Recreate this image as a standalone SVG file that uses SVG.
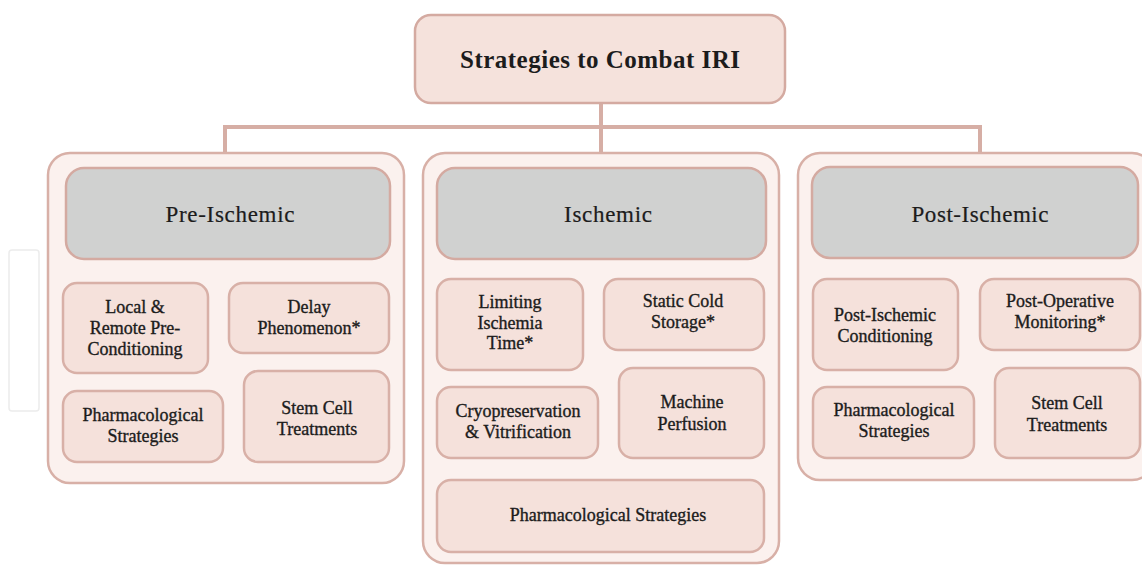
<svg xmlns="http://www.w3.org/2000/svg" width="1142" height="566" viewBox="0 0 1142 566">
  <style>
    .root { fill: #f5e2dc; stroke: #d4aaa1; stroke-width: 2.5; }
    .panel { fill: #fbf1ee; stroke: #d8b0a7; stroke-width: 2.5; }
    .head { fill: #d0d1d0; stroke: #d4aaa1; stroke-width: 2.5; }
    .item { fill: #f5e1db; stroke: #d8b0a7; stroke-width: 2.5; }
    .link { fill: none; stroke: #d6aea5; stroke-width: 4; }
    text { font-family: "Liberation Serif", "DejaVu Serif", serif; fill: #1c1c1c; text-anchor: middle; }
    .title { font-size: 25px; font-weight: bold; }
    .htext { font-size: 23px; stroke: #1c1c1c; stroke-width: 0.2; }
    .itext { font-size: 18px; stroke: #1c1c1c; stroke-width: 0.35; }
  </style>

  <!-- faint empty frame at far left -->
  <rect x="9" y="250" width="30" height="161" rx="3" fill="#ffffff" stroke="#ececec" stroke-width="1.5"/>

  <!-- tree connectors -->
  <g id="connectors">
    <path class="link" d="M601 104 V153"/>
    <path class="link" d="M225 153 V127 H980 V153"/>
  </g>

  <!-- root -->
  <g id="root">
    <rect class="root" x="415" y="15" width="370" height="88" rx="16"/>
    <text class="title" x="600" y="68" textLength="280">Strategies to Combat IRI</text>
  </g>

  <!-- Pre-Ischemic column -->
  <g id="pre-ischemic">
    <rect class="panel" x="48" y="153" width="356" height="330" rx="22"/>
    <rect class="head" x="66" y="168" width="324" height="91" rx="18"/>
    <text class="htext" x="230" y="222" textLength="129">Pre-Ischemic</text>
  </g>
  <g id="pre-local">
    <rect class="item" x="63" y="283" width="145" height="90" rx="14"/>
    <text class="itext" x="135" y="313">Local &amp;</text>
    <text class="itext" x="135" y="334">Remote Pre-</text>
    <text class="itext" x="135" y="355">Conditioning</text>
  </g>
  <g id="pre-delay">
    <rect class="item" x="229" y="283" width="160" height="70" rx="14"/>
    <text class="itext" x="309" y="313">Delay</text>
    <text class="itext" x="309" y="334">Phenomenon*</text>
  </g>
  <g id="pre-pharm">
    <rect class="item" x="63" y="391" width="160" height="71" rx="14"/>
    <text class="itext" x="143" y="421">Pharmacological</text>
    <text class="itext" x="143" y="442">Strategies</text>
  </g>
  <g id="pre-stem">
    <rect class="item" x="244" y="371" width="145" height="91" rx="14"/>
    <text class="itext" x="317" y="414">Stem Cell</text>
    <text class="itext" x="317" y="435">Treatments</text>
  </g>

  <!-- Ischemic column -->
  <g id="ischemic">
    <rect class="panel" x="423" y="153" width="356" height="410" rx="22"/>
    <rect class="head" x="437" y="168" width="329" height="91" rx="18"/>
    <text class="htext" x="608" y="222" textLength="88">Ischemic</text>
  </g>
  <g id="isc-limit">
    <rect class="item" x="437" y="279" width="146" height="91" rx="14"/>
    <text class="itext" x="510" y="308">Limiting</text>
    <text class="itext" x="510" y="329">Ischemia</text>
    <text class="itext" x="510" y="349">Time*</text>
  </g>
  <g id="isc-static">
    <rect class="item" x="604" y="279" width="160" height="71" rx="14"/>
    <text class="itext" x="683" y="307">Static Cold</text>
    <text class="itext" x="683" y="328">Storage*</text>
  </g>
  <g id="isc-cryo">
    <rect class="item" x="437" y="387" width="161" height="71" rx="14"/>
    <text class="itext" x="518" y="417">Cryopreservation</text>
    <text class="itext" x="518" y="438">&amp; Vitrification</text>
  </g>
  <g id="isc-machine">
    <rect class="item" x="619" y="368" width="145" height="90" rx="14"/>
    <text class="itext" x="692" y="408">Machine</text>
    <text class="itext" x="692" y="430">Perfusion</text>
  </g>
  <g id="isc-pharm">
    <rect class="item" x="437" y="480" width="327" height="72" rx="14"/>
    <text class="itext" x="608" y="521">Pharmacological Strategies</text>
  </g>

  <!-- Post-Ischemic column -->
  <g id="post-ischemic">
    <rect class="panel" x="798" y="153" width="356" height="327" rx="22"/>
    <rect class="head" x="812" y="167" width="326" height="91" rx="18"/>
    <text class="htext" x="980" y="222" textLength="137">Post-Ischemic</text>
  </g>
  <g id="post-cond">
    <rect class="item" x="813" y="279" width="145" height="91" rx="14"/>
    <text class="itext" x="885" y="321">Post-Ischemic</text>
    <text class="itext" x="885" y="342">Conditioning</text>
  </g>
  <g id="post-monitor">
    <rect class="item" x="980" y="279" width="160" height="71" rx="14"/>
    <text class="itext" x="1060" y="307">Post-Operative</text>
    <text class="itext" x="1060" y="328">Monitoring*</text>
  </g>
  <g id="post-pharm">
    <rect class="item" x="813" y="387" width="161" height="71" rx="14"/>
    <text class="itext" x="894" y="416">Pharmacological</text>
    <text class="itext" x="894" y="437">Strategies</text>
  </g>
  <g id="post-stem">
    <rect class="item" x="995" y="368" width="145" height="90" rx="14"/>
    <text class="itext" x="1067" y="409">Stem Cell</text>
    <text class="itext" x="1067" y="431">Treatments</text>
  </g>
</svg>
